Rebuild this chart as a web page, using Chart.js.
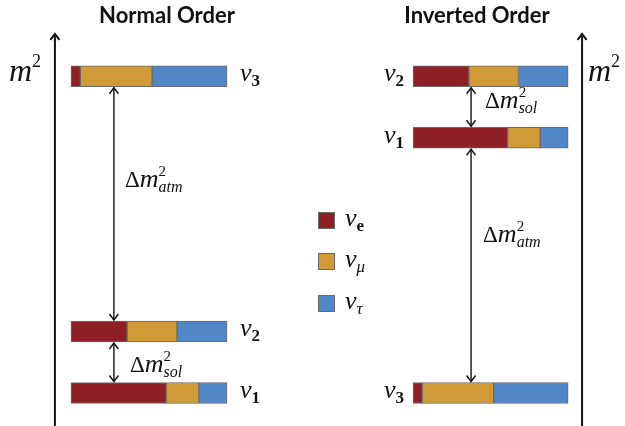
<!DOCTYPE html>
<html>
<head>
<meta charset="utf-8">
<script src="https://cdn.jsdelivr.net/npm/chart.js@4.4.0/dist/chart.umd.min.js"></script>
<style>
  html, body { margin: 0; padding: 0; background: #fff; }
  #wrap { width: 625px; height: 426px; }
</style>
</head>
<body>
<div id="wrap"><canvas id="levels" width="625" height="426"></canvas></div>
<script>
// mass states and flavour content (fraction of each bar)
const states = ['1', '2', '3'];
const flavours = ['e', 'μ', 'τ'];
const flavourColors = ['#8e1f25', '#d09a37', '#5187c7'];
const nuE   = [0.61, 0.36, 0.06];
const nuMu  = [0.21, 0.32, 0.46];
const nuTau = [0.18, 0.32, 0.48];

// m^2 of each state, arbitrary units (not to scale)
const normalLevels   = [0, 1, 5.15];
const invertedLevels = [4.15, 5.15, 0];
const axisTop = 5.84;

const BAR = 21;

function segments(levels) {
    return [nuE, nuMu, nuTau].map((frac, f) => states.map((s, i) => {
        let start = 0;
        if (f > 0) start += nuE[i];
        if (f > 1) start += nuMu[i];
        return { y: levels[i], x: [start, start + frac[i]] };
    }));
}

const datasets = [];
[['xN', normalLevels], ['xI', invertedLevels]].forEach(([axisId, levels]) => {
    segments(levels).forEach((data, f) => {
        datasets.push({
            label: 'ν' + flavours[f],
            data: data,
            xAxisID: axisId,
            yAxisID: 'y',
            backgroundColor: flavourColors[f],
            borderColor: '#6a6a6a',
            borderWidth: 1,
            borderSkipped: false,
            grouped: false,
            barThickness: BAR,
            barPercentage: 1,
            categoryPercentage: 1
        });
    });
});

// draws a run of text pieces; a piece with `under` starts at the previous piece's x
function drawPieces(ctx, x, y, pieces, align) {
    let starts = [], cx = 0, total = 0, prevX = 0;
    pieces.forEach(p => {
        ctx.font = p.font;
        const w = ctx.measureText(p.t).width;
        const px = p.under ? prevX : cx;
        starts.push(px);
        if (!p.under) prevX = cx;
        cx = Math.max(cx, px + w);
        total = Math.max(total, px + w);
    });
    const x0 = align === 'right' ? x - total : x;
    ctx.textAlign = 'left';
    ctx.textBaseline = 'alphabetic';
    ctx.fillStyle = '#111';
    pieces.forEach((p, i) => {
        ctx.font = p.font;
        ctx.fillText(p.t, x0 + starts[i], y + (p.dy || 0));
    });
}

const serif = '"Liberation Serif", "DejaVu Serif", serif';

function nuLabel(sub, bold) {
    return [
        { t: 'ν', font: 'italic 26px ' + serif },
        { t: sub, font: (bold ? 'bold 17px ' : 'italic 17px ') + serif, dy: 5 }
    ];
}

function deltaLabel(sub) {
    return [
        { t: 'Δ', font: '23px ' + serif },
        { t: 'm', font: 'italic 26px ' + serif },
        { t: '2', font: '15px ' + serif, dy: -11 },
        { t: sub, font: 'italic 16px ' + serif, dy: 5, under: true }
    ];
}

function arrowHead(ctx, x, y, dir) {
    ctx.beginPath();
    ctx.moveTo(x - 4.5, y - dir * 6);
    ctx.lineTo(x, y);
    ctx.lineTo(x + 4.5, y - dir * 6);
    ctx.stroke();
}

function vArrow(ctx, x, y1, y2, both, width) {
    ctx.save();
    ctx.strokeStyle = '#111';
    ctx.lineWidth = width;
    ctx.beginPath();
    ctx.moveTo(x, y1);
    ctx.lineTo(x, y2);
    ctx.stroke();
    arrowHead(ctx, x, y1, -1);
    if (both) arrowHead(ctx, x, y2, 1);
    ctx.restore();
}

const diagram = {
    id: 'diagram',
    afterDatasetsDraw(chart) {
        const ctx = chart.ctx;
        const { xN, xI, y } = chart.scales;
        const half = BAR / 2 + 1;

        // titles
        ctx.save();
        ctx.fillStyle = '#111';
        ctx.font = 'bold 22px Lato, "Open Sans", sans-serif';
        ctx.textAlign = 'center';
        ctx.textBaseline = 'alphabetic';
        ctx.fillText('Normal Order', 167, 23);
        ctx.fillText('Inverted Order', 477, 23);
        ctx.restore();

        // m^2 axes
        const axL = xN.getPixelForValue(-0.103);
        const axR = xI.getPixelForValue(1.09);
        vArrow(ctx, axL, y.getPixelForValue(axisTop), chart.height + 2, false, 2);
        vArrow(ctx, axR, y.getPixelForValue(axisTop), chart.height + 2, false, 2);
        const m2 = [
            { t: 'm', font: 'italic 32px ' + serif },
            { t: '2', font: '18px ' + serif, dy: -14 }
        ];
        drawPieces(ctx, 9, 81, m2, 'left');
        drawPieces(ctx, 588, 81, m2, 'left');

        // splitting arrows, normal order
        const nx = xN.getPixelForValue(0.275);
        vArrow(ctx, nx, y.getPixelForValue(normalLevels[2]) + half, y.getPixelForValue(normalLevels[1]) - half, true, 1.4);
        vArrow(ctx, nx, y.getPixelForValue(normalLevels[1]) + half, y.getPixelForValue(normalLevels[0]) - half, true, 1.4);
        drawPieces(ctx, nx + 11, 187, deltaLabel('atm'), 'left');
        drawPieces(ctx, nx + 16, 372, deltaLabel('sol'), 'left');

        // splitting arrows, inverted order
        const ix = xI.getPixelForValue(0.374);
        vArrow(ctx, ix, y.getPixelForValue(invertedLevels[1]) + half, y.getPixelForValue(invertedLevels[0]) - half, true, 1.4);
        vArrow(ctx, ix, y.getPixelForValue(invertedLevels[0]) + half, y.getPixelForValue(invertedLevels[2]) - half, true, 1.4);
        drawPieces(ctx, ix + 14, 108, deltaLabel('sol'), 'left');
        drawPieces(ctx, ix + 12, 242, deltaLabel('atm'), 'left');

        // state labels
        states.forEach((s, i) => {
            drawPieces(ctx, xN.getPixelForValue(1) + 13, y.getPixelForValue(normalLevels[i]) + 5, nuLabel(s, true), 'left');
            drawPieces(ctx, xI.getPixelForValue(0) - 9, y.getPixelForValue(invertedLevels[i]) + 5, nuLabel(s, true), 'right');
        });

        // flavour legend
        const legendTops = [212, 253, 295];
        flavours.forEach((f, k) => {
            ctx.save();
            ctx.fillStyle = flavourColors[k];
            ctx.strokeStyle = '#6a6a6a';
            ctx.lineWidth = 1;
            ctx.fillRect(318, legendTops[k], 17, 17);
            ctx.strokeRect(318.5, legendTops[k] + 0.5, 16, 16);
            ctx.restore();
            drawPieces(ctx, 345, legendTops[k] + 14, nuLabel(f, k === 0), 'left');
        });
    }
};

new Chart(document.getElementById('levels'), {
    type: 'bar',
    data: { labels: states, datasets: datasets },
    options: {
        indexAxis: 'y',
        responsive: false,
        animation: false,
        layout: { padding: 0 },
        plugins: {
            legend: { display: false },
            tooltip: { enabled: false },
            title: { display: false }
        },
        scales: {
            xN: { type: 'linear', axis: 'x', min: -0.455, max: 3.551, display: false },
            xI: { type: 'linear', axis: 'x', min: -2.665, max: 1.367, display: false },
            y:  { type: 'linear', axis: 'y', min: -0.537, max: 6.39, offset: false, display: false }
        }
    },
    plugins: [diagram]
});
</script>
</body>
</html>
